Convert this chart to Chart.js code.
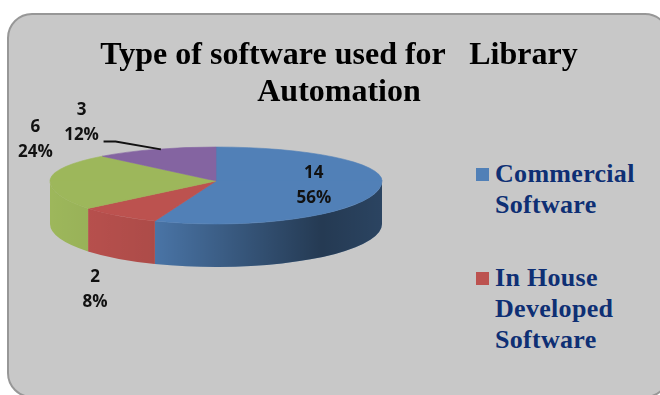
<!DOCTYPE html>
<html>
<head>
<meta charset="utf-8">
<title>Type of software used for Library Automation</title>
<script src="https://cdn.jsdelivr.net/npm/chart.js@4/dist/chart.umd.min.js"></script>
<style>
    html, body { margin: 0; padding: 0; background: #fff; overflow: hidden; }
    #page { position: relative; width: 660px; height: 395px; overflow: hidden; }
    #card {
        position: absolute; left: 7px; top: 13px; width: 663px; height: 385px;
        box-sizing: border-box; background: #c8c8c8;
        border: 2px solid #979797; border-radius: 25px;
    }
    #pieChart { position: absolute; left: 0; top: 0; }
    #title {
        position: absolute; left: 0; top: 35px; width: 678px; text-align: center;
        font: bold 32px/37px "Liberation Serif", serif; color: #000; white-space: pre;
    }
    #legend {
        position: absolute; left: 476px; top: 158px; width: 170px;
        font: bold 26px/31px "Liberation Serif", serif; color: #0e2f74; letter-spacing: 0.3px;
    }
    .legend-item { position: relative; padding-left: 19px; margin-bottom: 42px; }
    .legend-item i { position: absolute; left: 0; top: 10px; width: 13px; height: 13px; }
</style>
</head>
<body>
<div id="page">
    <div id="card"></div>
    <canvas id="pieChart" width="432" height="362"></canvas>
    <div id="title"></div>
    <div id="legend"></div>
</div>
<script>
    const titleLines = ['Type of software used for   Library', 'Automation'];
    const categories = ['Commercial Software', 'In House Developed Software', '', ''];
    const counts = [14, 2, 6, 3];
    const sliceColors = ['#5180b7', '#bc524f', '#9db75b', '#8464a1'];

    // Data label placement: distance along the slice's mid angle, then a vertical nudge
    const labelRadius = [0.6, 1.24, 1.09, 2.2];
    const labelShift = [0, 66, -39, 11];

    // Tilted pie look
    const rimDepth = 43;
    const backSquash = 34 / 166;
    const frontSquash = 43 / 166;

    const total = counts.reduce((a, b) => a + b, 0);

    document.getElementById('title').textContent = titleLines.join('\n');

    const tiltedPie = {
        id: 'tiltedPie',
        beforeDatasetsDraw(chart) {
            const ctx = chart.ctx;
            const arcs = chart.getDatasetMeta(0).data;
            const { x: cx, y: cy, outerRadius: r } = arcs[0];

            // Rim first, shaded from the left side towards the right
            arcs.forEach((arc, i) => {
                const from = Math.max(arc.startAngle, 0);
                const to = Math.min(arc.endAngle, Math.PI);
                if (from >= to) return;
                const ry = r * frontSquash;
                const rimPath = () => {
                    ctx.beginPath();
                    ctx.ellipse(cx, cy, r, ry, 0, from, to);
                    ctx.ellipse(cx, cy + rimDepth, r, ry, 0, to, from, true);
                    ctx.closePath();
                };
                rimPath();
                ctx.fillStyle = sliceColors[i];
                ctx.fill();
                const shade = ctx.createLinearGradient(cx - r, 0, cx + r, 0);
                shade.addColorStop(0, 'rgba(0,0,0,0)');
                shade.addColorStop(0.3, 'rgba(0,0,0,0.08)');
                shade.addColorStop(0.82, 'rgba(0,0,0,0.55)');
                shade.addColorStop(1, 'rgba(0,0,0,0.47)');
                rimPath();
                ctx.fillStyle = shade;
                ctx.fill();
            });

            // Top face: back and front halves squashed by different amounts
            [[0, cy, backSquash], [cy - 0.5, chart.height, frontSquash]].forEach(([top, bottom, squash]) => {
                ctx.save();
                ctx.beginPath();
                ctx.rect(0, top, chart.width, bottom - top);
                ctx.clip();
                ctx.translate(cx, cy);
                ctx.scale(1, squash);
                ctx.translate(-cx, -cy);
                arcs.forEach(arc => arc.draw(ctx));
                ctx.restore();
            });
            return false;
        },
        // Returning false above also skips afterDatasetsDraw, so labels go here
        afterDraw(chart) {
            const ctx = chart.ctx;
            const arcs = chart.getDatasetMeta(0).data;
            ctx.save();
            ctx.fillStyle = '#111';
            ctx.textAlign = 'center';
            ctx.textBaseline = 'middle';
            ctx.font = 'bold 17px "Open Sans", sans-serif';
            arcs.forEach((arc, i) => {
                const mid = (arc.startAngle + arc.endAngle) / 2;
                const squash = Math.sin(mid) > 0 ? frontSquash : backSquash;
                const dist = arc.outerRadius * labelRadius[i];
                const x = arc.x + Math.cos(mid) * dist;
                const y = arc.y + Math.sin(mid) * dist * squash + labelShift[i];
                ctx.fillText(String(counts[i]), x, y - 12.5);
                ctx.fillText(Math.round(counts[i] / total * 100) + '%', x, y + 12.5);

                // Leader line for the slice whose label sits far from it
                if (labelRadius[i] > 2) {
                    const rimX = arc.x + Math.cos(mid) * arc.outerRadius;
                    const rimY = arc.y + Math.sin(mid) * arc.outerRadius * backSquash;
                    ctx.beginPath();
                    ctx.moveTo(x + 22, y + 19);
                    ctx.lineTo(x + 34, y + 19);
                    ctx.lineTo(rimX + 6, rimY);
                    ctx.strokeStyle = '#111';
                    ctx.lineWidth = 2;
                    ctx.stroke();
                }
            });
            ctx.restore();
        }
    };

    // Legend lists the named categories only
    const htmlLegend = {
        id: 'htmlLegend',
        afterUpdate(chart) {
            const box = document.getElementById('legend');
            box.innerHTML = '';
            chart.data.labels.forEach((label, i) => {
                if (!label) return;
                const item = document.createElement('div');
                item.className = 'legend-item';
                const swatch = document.createElement('i');
                swatch.style.background = sliceColors[i];
                item.appendChild(swatch);
                item.appendChild(document.createTextNode(label));
                box.appendChild(item);
            });
        }
    };

    new Chart(document.getElementById('pieChart'), {
        type: 'pie',
        data: {
            labels: categories,
            datasets: [{
                data: counts,
                backgroundColor: sliceColors,
                borderColor: sliceColors,
                borderWidth: 1,
                radius: 166
            }]
        },
        options: {
            responsive: false,
            animation: false,
            plugins: {
                legend: { display: false },
                tooltip: { enabled: false }
            }
        },
        plugins: [tiltedPie, htmlLegend]
    });
</script>
</body>
</html>
